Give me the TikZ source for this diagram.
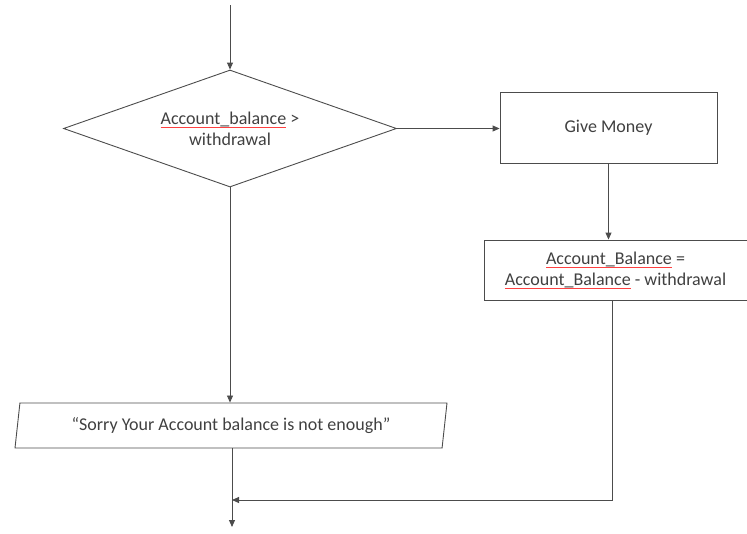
\documentclass[tikz,border=0pt]{standalone}
\usepackage{fontspec}
\setmainfont{Carlito}
\usetikzlibrary{shapes.geometric, arrows.meta, positioning}

% red spell-check underline
\newsavebox{\spellbox}
\newcommand{\spell}[1]{\sbox{\spellbox}{#1}\rlap{\textcolor{red!75}{\rule[-0.4ex]{\wd\spellbox}{0.6pt}}}\usebox{\spellbox}}

\tikzset{
  flow/.style={draw=black!70, line width=0.9pt, text=black!75, align=center,
    inner sep=0pt, font=\fontsize{18}{21}\selectfont},
  decision/.style={flow, diamond, aspect=2.85, minimum width=333pt, minimum height=117pt},
  process/.style={flow, rectangle},
  output/.style={flow, trapezium, trapezium left angle=77, trapezium right angle=103,
    trapezium stretches=true, minimum width=434pt, minimum height=45pt},
  link/.style={draw=black!70, line width=0.9pt, -{Triangle[length=7pt, width=6pt]}},
}

\begin{document}
\begin{tikzpicture}[x=1pt, y=-1pt]

  \useasboundingbox (0,0) rectangle (747,533);

  \coordinate (start) at (230,5);
  \node[decision] (check) at (230,128.5) {\spell{Account\_balance} >\\withdrawal};

  \node[process, minimum width=217pt, minimum height=71pt] (give) at (608.5,127.5) {Give Money};
  \node[process, minimum width=263pt, minimum height=60pt] (update) at (615.5,270)
    {\spell{Account\_Balance} =\\\spell{Account\_Balance} - withdrawal};

  \node[output] (sorry) at (231,425.5) {``Sorry Your Account balance is not enough''};

  \coordinate (merge) at (232,500);
  \coordinate (stop) at (232,527);

  % arrows
  \draw[link] (start) -- (check.north);
  \draw[link] (check.east) -- (check.east -| give.west);
  \draw[link] (give.south) -- (give.south |- update.north);
  \draw[link] (check.south) -- (check.south |- sorry.north);
  \draw[link] (sorry.south -| merge) -- (stop);

  % back from the update box
  \draw[link] (update.south -| 612,0) |- (merge);

\end{tikzpicture}
\end{document}
